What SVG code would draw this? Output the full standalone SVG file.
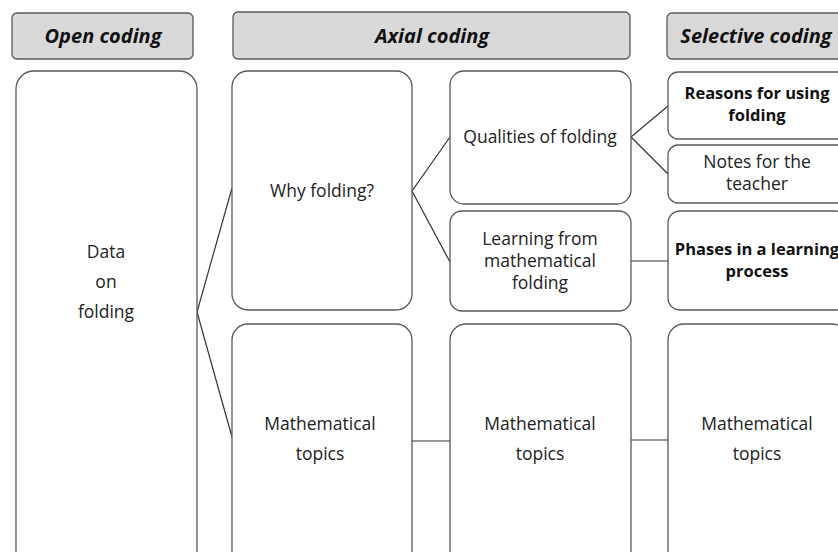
<svg xmlns="http://www.w3.org/2000/svg" width="838" height="552" viewBox="0 0 838 552">
<style>
.hdr{fill:#d9d9d9;stroke:#595959;stroke-width:1.3}
.box{fill:#fff;stroke:#595959;stroke-width:1.3}
.ht{font-family:"Open Sans",sans-serif;font-weight:bold;font-style:italic;font-size:20px;fill:#111;text-anchor:middle}
.t{font-family:"Open Sans",sans-serif;font-size:17.5px;fill:#222;text-anchor:middle}
.b{font-family:"Open Sans",sans-serif;font-size:16.5px;font-weight:bold;fill:#111;text-anchor:middle}
.c{stroke:#333;stroke-width:1.2;fill:none}
</style>
<rect width="838" height="552" fill="#fff"/>
<g id="h-open"><rect class="hdr" x="12" y="13" width="181" height="46" rx="5"/><text class="ht" x="103" y="43">Open coding</text></g>
<g id="h-axial"><rect class="hdr" x="233" y="12" width="397" height="47" rx="5"/><text class="ht" x="432" y="43">Axial coding</text></g>
<g id="h-selective"><rect class="hdr" x="667" y="13" width="181" height="46" rx="5"/><text class="ht" x="756" y="43">Selective coding</text></g>
<g id="connectors">
<polyline class="c" points="232,188 197,312 232,437"/>
<polyline class="c" points="450,137 412,191 450,262"/>
<polyline class="c" points="668,106 631,137 668,174"/>
<line class="c" x1="631" y1="261" x2="668" y2="261"/>
<line class="c" x1="412" y1="441" x2="450" y2="441"/>
<line class="c" x1="631" y1="440" x2="668" y2="440"/>
</g>
<g id="n-data"><rect class="box" x="16" y="71" width="181" height="500" rx="18"/>
<text class="t" x="106" y="258">Data</text><text class="t" x="106" y="288">on</text><text class="t" x="106" y="318">folding</text></g>
<g id="n-why"><rect class="box" x="232" y="71" width="180" height="239" rx="16"/><text class="t" x="322" y="197">Why folding?</text></g>
<g id="n-math1"><rect class="box" x="232" y="324" width="180" height="247" rx="16"/>
<text class="t" x="320" y="430">Mathematical</text><text class="t" x="320" y="460">topics</text></g>
<g id="n-qual"><rect class="box" x="450" y="71" width="181" height="133" rx="14"/><text class="t" x="540" y="143">Qualities of folding</text></g>
<g id="n-learn"><rect class="box" x="450" y="211" width="181" height="100" rx="12"/>
<text class="t" x="540" y="245">Learning from</text><text class="t" x="540" y="267">mathematical</text><text class="t" x="540" y="289">folding</text></g>
<g id="n-math2"><rect class="box" x="450" y="324" width="181" height="247" rx="16"/>
<text class="t" x="540" y="430">Mathematical</text><text class="t" x="540" y="460">topics</text></g>
<g id="n-reasons"><rect class="box" x="668" y="72" width="180" height="67" rx="10"/>
<text class="b" x="757" y="99">Reasons for using</text><text class="b" x="757" y="121">folding</text></g>
<g id="n-notes"><rect class="box" x="668" y="145" width="180" height="58" rx="10"/>
<text class="t" x="757" y="168">Notes for the</text><text class="t" x="757" y="190">teacher</text></g>
<g id="n-phases"><rect class="box" x="668" y="211" width="180" height="99" rx="12"/>
<text class="b" x="757" y="255">Phases in a learning</text><text class="b" x="757" y="277">process</text></g>
<g id="n-math3"><rect class="box" x="668" y="324" width="180" height="247" rx="16"/>
<text class="t" x="757" y="430">Mathematical</text><text class="t" x="757" y="460">topics</text></g>
</svg>
